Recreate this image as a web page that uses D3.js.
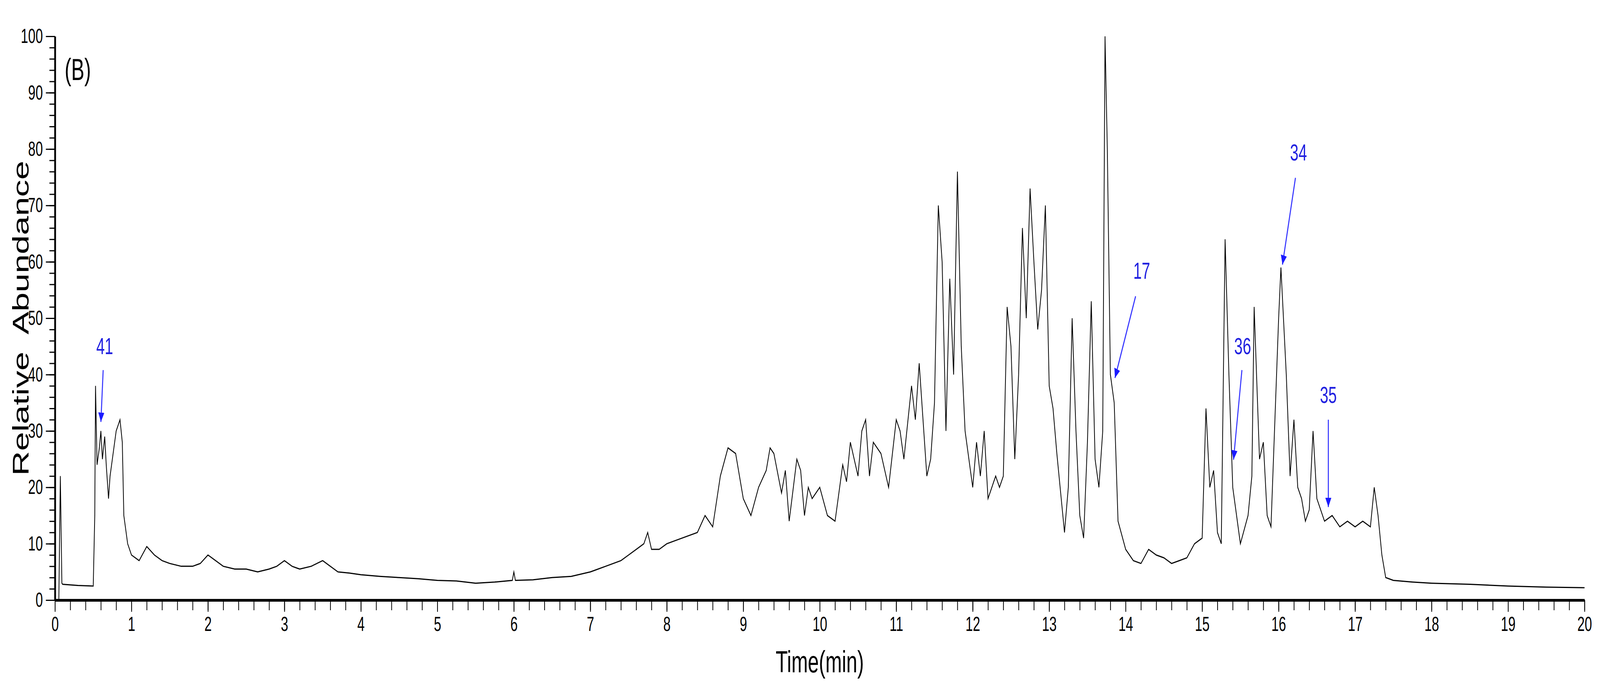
<!DOCTYPE html>
<html>
<head>
<meta charset="utf-8">
<script src="https://cdn.jsdelivr.net/npm/d3@7"></script>
<style>
  html, body { margin: 0; padding: 0; background: #fff; overflow: hidden; }
  svg { display: block; width: 100vw; height: 100vh; }
  text { font-family: "Liberation Sans", Arial, sans-serif; }
</style>
</head>
<body>
<svg id="chart" viewBox="0 0 6313 1757" preserveAspectRatio="none"></svg>
<script>
// retention time (min) and relative abundance (%)
var times = [0,0.05,0.07,0.09,0.1,0.3,0.5,0.52,0.53,0.55,0.58,0.6,0.62,0.65,0.67,0.7,0.72,0.75,0.8,0.85,0.88,0.9,0.95,1.0,1.1,1.2,1.3,1.4,1.5,1.65,1.8,1.9,2.0,2.1,2.2,2.35,2.5,2.65,2.8,2.9,3.0,3.1,3.2,3.35,3.5,3.6,3.7,3.85,4.0,4.25,4.5,4.75,5.0,5.25,5.5,5.75,5.98,6.0,6.02,6.25,6.5,6.75,7.0,7.2,7.4,7.5,7.6,7.7,7.75,7.8,7.9,8.0,8.2,8.4,8.5,8.6,8.7,8.8,8.9,9.0,9.1,9.2,9.3,9.35,9.4,9.5,9.55,9.6,9.7,9.75,9.8,9.85,9.9,10.0,10.1,10.2,10.3,10.35,10.4,10.5,10.55,10.6,10.65,10.7,10.8,10.9,11.0,11.05,11.1,11.2,11.25,11.3,11.4,11.45,11.5,11.55,11.6,11.65,11.7,11.75,11.8,11.85,11.9,12.0,12.05,12.1,12.15,12.2,12.3,12.35,12.4,12.45,12.5,12.55,12.6,12.65,12.7,12.75,12.8,12.85,12.9,12.95,13.0,13.05,13.1,13.2,13.25,13.3,13.35,13.4,13.45,13.5,13.55,13.6,13.65,13.7,13.73,13.76,13.8,13.85,13.9,14.0,14.1,14.2,14.3,14.4,14.5,14.6,14.7,14.8,14.9,15.0,15.05,15.1,15.15,15.2,15.25,15.3,15.35,15.4,15.5,15.6,15.65,15.68,15.75,15.8,15.85,15.9,16.0,16.03,16.1,16.15,16.2,16.25,16.3,16.35,16.4,16.45,16.5,16.6,16.7,16.8,16.9,17.0,17.1,17.2,17.25,17.3,17.35,17.4,17.5,17.75,18.0,18.5,19.0,19.5,20.0];
var abundance = [0,0,22,3,2.8,2.6,2.5,15,38,24,27,30,25,29,24,18,22,25,30,32,28,15,10,8,7,9.5,8,7,6.5,6,6,6.5,8,7,6,5.5,5.5,5,5.5,6,7,6,5.5,6,7,6,5,4.8,4.5,4.2,4,3.8,3.5,3.4,3,3.2,3.5,5,3.5,3.6,4,4.2,5,6,7,8,9,10,12,9,9,10,11,12,15,13,22,27,26,18,15,20,23,27,26,19,23,14,25,23,15,20,18,20,15,14,24,21,28,22,30,32,22,28,26,20,32,30,25,38,32,42,22,25,35,70,60,30,57,40,76,45,30,20,28,22,30,18,22,20,22,52,45,25,40,66,50,73,60,48,55,70,38,34,26,12,20,50,30,15,11,28,53,25,20,30,100,80,40,35,14,9,7,6.5,9,8,7.5,6.5,7,7.5,10,11,34,20,23,12,10,64,40,20,10,15,22,52,25,28,15,13,50,59,40,22,32,20,18,14,16,30,18,14,15,13,14,13,14,13,20,15,8,4,3.5,3.2,3,2.8,2.5,2.3,2.2];

// peak labels: label position, arrow tail and arrow tip, in data units
var peakNames = ["41","17","36","34","35"];
var labelT = [0.65,14.21,15.53,16.26,16.65];
var labelV = [43.6,57,43.6,78,35];
var tailT = [0.63,14.13,15.52,16.22,16.65];
var tailV = [40.8,53.9,40.8,74.9,32];
var tipT = [0.60,13.86,15.41,16.05,16.65];
var tipV = [31.6,39.4,24.9,59.5,16.5];

var xTicks = d3.range(0, 21, 1);
var yTicks = d3.range(0, 101, 10);

(function(){
  var svg = d3.select('#chart');
  var mLeft = 217, mRight = 6252, mTop = 93, mBottom = 1537;

  var x = d3.scaleLinear().domain([0, 20]).range([mLeft, mRight]);
  var y = d3.scaleLinear().domain([0, 100]).range([mBottom, mTop]);

  // minor ticks
  svg.append('g').attr('transform', 'translate(0,' + mBottom + ')')
    .call(d3.axisBottom(x).tickValues(d3.range(0, 20.01, 0.2)).tickSize(26).tickFormat(''))
    .call(function(g){ g.select('.domain').remove(); g.selectAll('line').attr('stroke-width', 3); });
  svg.append('g').attr('transform', 'translate(' + mLeft + ',0)')
    .call(d3.axisLeft(y).tickValues(d3.range(0, 100.01, 2)).tickSize(22).tickFormat(''))
    .call(function(g){ g.select('.domain').remove(); g.selectAll('line').attr('stroke-width', 3); });

  var xAxis = svg.append('g').attr('transform', 'translate(0,' + mBottom + ')')
    .call(d3.axisBottom(x).tickValues(xTicks).tickSize(30).tickSizeOuter(0).tickPadding(12));
  var yAxis = svg.append('g').attr('transform', 'translate(' + mLeft + ',0)')
    .call(d3.axisLeft(y).tickValues(yTicks).tickSize(36).tickSizeOuter(0).tickPadding(12));

  [xAxis, yAxis].forEach(function(g){
    g.select('.domain').attr('stroke-width', 7);
    g.selectAll('line').attr('stroke-width', 3);
    g.selectAll('text').attr('font-size', 52).attr('fill', '#000')
     .attr('font-family', '"Liberation Sans", Arial, sans-serif');
  });

  // chromatogram trace
  var line = d3.line().x(function(d, i){ return x(times[i]); }).y(function(d){ return y(d); });
  svg.append('path').datum(abundance)
    .attr('d', line).attr('fill', 'none').attr('stroke', '#000').attr('stroke-width', 3);

  // arrows
  svg.append('defs').append('marker')
    .attr('id', 'head').attr('viewBox', '0 0 10 10').attr('refX', 10).attr('refY', 5)
    .attr('markerWidth', 6).attr('markerHeight', 6).attr('orient', 'auto')
    .append('path').attr('d', 'M0,0 L10,5 L0,10 z').attr('fill', '#1a1aff');

  peakNames.forEach(function(n, i){
    svg.append('line')
      .attr('x1', x(tailT[i])).attr('y1', y(tailV[i]))
      .attr('x2', x(tipT[i])).attr('y2', y(tipV[i]))
      .attr('stroke', '#3333ff').attr('stroke-width', 4).attr('marker-end', 'url(#head)');
    svg.append('text').attr('x', x(labelT[i])).attr('y', y(labelV[i]))
      .attr('text-anchor', 'middle').attr('font-size', 60).attr('fill', '#2020e0').text(n);
  });

  svg.append('text').attr('x', 255).attr('y', 205).attr('font-size', 78).text('(B)');

  svg.append('text')
    .attr('transform', 'translate(112,' + ((mTop + mBottom) / 2) + ') rotate(-90)')
    .attr('text-anchor', 'middle').attr('font-size', 88).attr('xml:space', 'preserve')
    .text('Relative  Abundance');

  svg.append('text').attr('x', (mLeft + mRight) / 2).attr('y', 1722)
    .attr('text-anchor', 'middle').attr('font-size', 78).text('Time(min)');
})();
</script>
</body>
</html>
